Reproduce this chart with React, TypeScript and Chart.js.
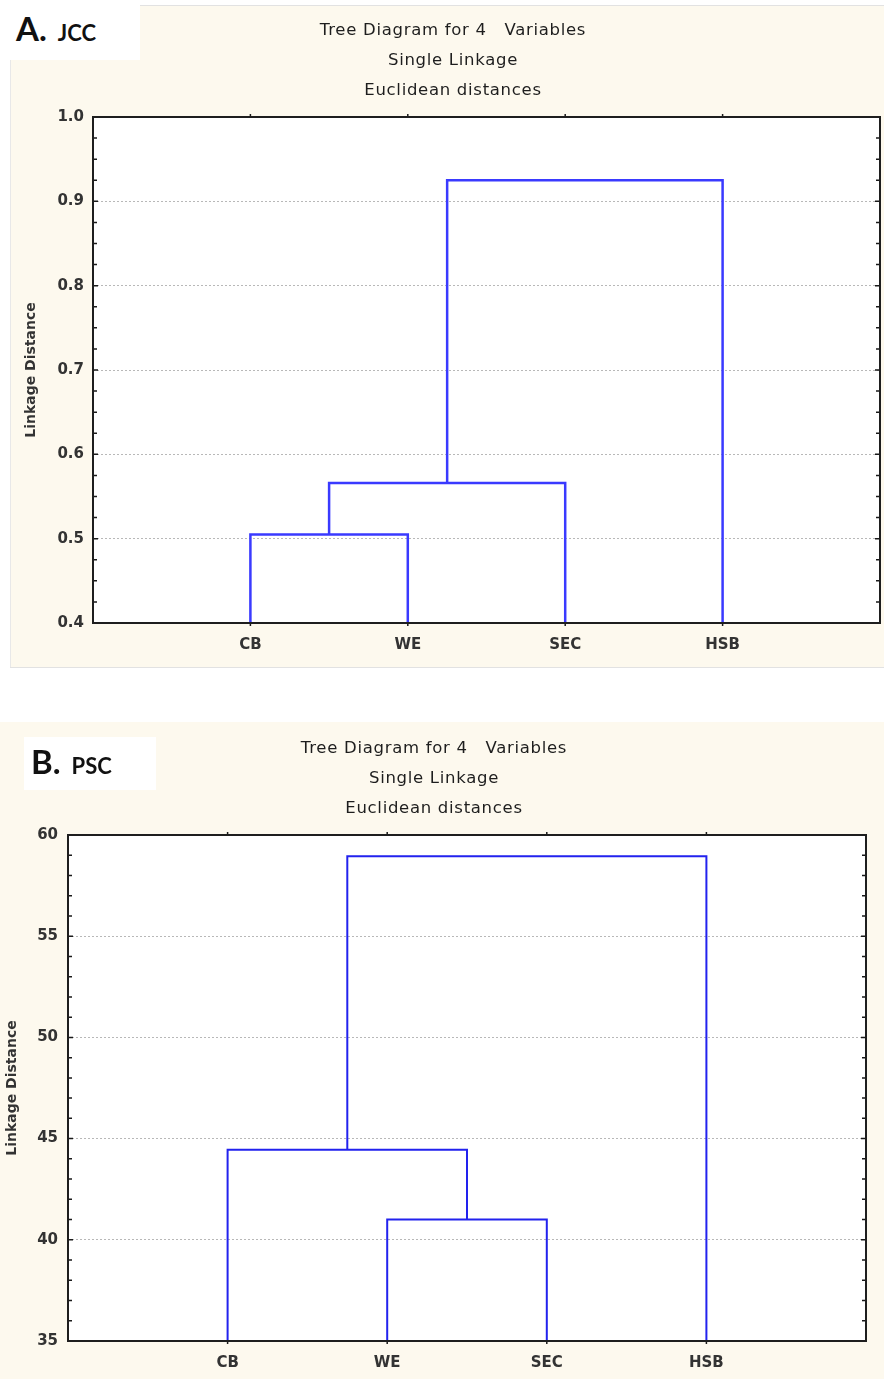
import React, { useEffect, useRef } from 'react';
import { Chart, registerables } from 'chart.js';

Chart.register(...registerables);

// ---------- DATA ----------
// Panel A (JCC)
const categoriesA = ['CB', 'WE', 'SEC', 'HSB'];
const mergeLeftA = [0, 4, 5];
const mergeRightA = [1, 2, 3];
const mergeHeightA = [0.505, 0.566, 0.925];
const yMinA = 0.4;
const yMaxA = 1.0;
const yMajorA = 0.1;
const yMinorA = 0.025;

// Panel B (PSC)
const categoriesB = ['CB', 'WE', 'SEC', 'HSB'];
const mergeLeftB = [1, 0, 5];
const mergeRightB = [2, 4, 3];
const mergeHeightB = [41.0, 44.45, 58.95];
const yMinB = 35;
const yMaxB = 60;
const yMajorB = 5;
const yMinorB = 1;

const titleLines = ['Tree Diagram for 4   Variables', 'Single Linkage', 'Euclidean distances'];
const yAxisTitle = 'Linkage Distance';

// ---------- HELPERS ----------
type Pt = { x: number; y: number };

function buildLinks(n: number, left: number[], right: number[], heights: number[], base: number): Pt[][] {
  const pos: number[] = [];
  const h: number[] = [];
  for (let i = 0; i < n; i++) {
    pos.push(i + 1);
    h.push(base);
  }
  const links: Pt[][] = [];
  for (let k = 0; k < heights.length; k++) {
    const l = left[k];
    const r = right[k];
    const hk = heights[k];
    links.push([
      { x: pos[l], y: h[l] },
      { x: pos[l], y: hk },
      { x: pos[r], y: hk },
      { x: pos[r], y: h[r] },
    ]);
    pos.push((pos[l] + pos[r]) / 2);
    h.push(hk);
  }
  return links;
}

type Spec = {
  categories: string[];
  left: number[];
  right: number[];
  heights: number[];
  yMin: number;
  yMax: number;
  yMajor: number;
  yMinor: number;
  decimals: number;
  lineColor: string;
  lineWidth: number;
  width: number;
  height: number;
  padTop: number;
  padRight: number;
  yAxisWidth: number;
  xAxisHeight: number;
  yLabelPad: number;
  yTitlePad: number;
};

const FONT = "'DejaVu Sans', 'Liberation Sans', Arial, sans-serif";

function DendroChart({ spec }: { spec: Spec }) {
  const ref = useRef<HTMLCanvasElement | null>(null);

  useEffect(() => {
    if (!ref.current) return;
    const s = spec;
    const eps = s.yMajor * 1e-6;
    const isMajor = (v: number) => Math.abs(v / s.yMajor - Math.round(v / s.yMajor)) < 1e-6;
    const links = buildLinks(s.categories.length, s.left, s.right, s.heights, s.yMin);

    const plugin = {
      id: 'dendroFrame',
      beforeDraw(chart: any) {
        const { ctx, chartArea: a } = chart;
        ctx.save();
        ctx.fillStyle = '#ffffff';
        ctx.fillRect(a.left, a.top, a.right - a.left, a.bottom - a.top);
        ctx.restore();
      },
      afterDraw(chart: any) {
        const { ctx, chartArea: a, scales } = chart;
        const ys = scales.y;
        const xs = scales.x;
        ctx.save();
        ctx.strokeStyle = '#1a1a1a';
        ctx.lineWidth = 1.5;
        ctx.beginPath();
        ys.ticks.forEach((t: any) => {
          const py = ys.getPixelForValue(t.value);
          const len = isMajor(t.value) ? 5 : 4;
          ctx.moveTo(a.left, py);
          ctx.lineTo(a.left + len, py);
          ctx.moveTo(a.right, py);
          ctx.lineTo(a.right - len, py);
        });
        xs.ticks.forEach((t: any) => {
          const px = xs.getPixelForValue(t.value);
          ctx.moveTo(px, a.top);
          ctx.lineTo(px, a.top - 3);
          ctx.moveTo(px, a.bottom);
          ctx.lineTo(px, a.bottom + 3);
        });
        ctx.stroke();
        ctx.lineWidth = 2;
        ctx.strokeStyle = '#1e1e1e';
        ctx.strokeRect(a.left, a.top, a.right - a.left, a.bottom - a.top);
        ctx.restore();
      },
    };

    const chart = new Chart(ref.current, {
      type: 'line',
      data: {
        datasets: links.map((pts) => ({
          data: pts,
          borderColor: s.lineColor,
          borderWidth: s.lineWidth,
          pointRadius: 0,
          fill: false,
          tension: 0,
          clip: false as any,
          borderJoinStyle: 'miter' as const,
        })),
      },
      options: {
        animation: false,
        responsive: false,
        maintainAspectRatio: false,
        layout: { padding: { top: s.padTop, right: s.padRight, left: 0, bottom: 0 } },
        plugins: {
          legend: { display: false },
          tooltip: { enabled: false },
          title: { display: false },
        },
        scales: {
          x: {
            type: 'linear',
            min: 0,
            max: s.categories.length + 1,
            afterBuildTicks: (scale: any) => {
              scale.ticks = s.categories.map((_, i) => ({ value: i + 1 }));
            },
            afterFit: (scale: any) => {
              scale.height = s.xAxisHeight;
            },
            grid: { display: false, drawTicks: false },
            border: { display: false },
            ticks: {
              autoSkip: false,
              maxRotation: 0,
              padding: 13,
              color: '#333333',
              font: { family: FONT, size: 15, weight: 'bold' },
              callback: (v: any) => s.categories[Math.round(Number(v)) - 1] ?? '',
            },
          },
          y: {
            type: 'linear',
            min: s.yMin,
            max: s.yMax,
            afterFit: (scale: any) => {
              scale.width = s.yAxisWidth;
            },
            ticks: {
              stepSize: s.yMinor,
              autoSkip: false,
              padding: s.yLabelPad,
              color: '#333333',
              font: { family: FONT, size: 15, weight: 'bold' },
              callback: (v: any) => (isMajor(Number(v)) ? Number(v).toFixed(s.decimals) : ''),
            },
            grid: {
              drawTicks: false,
              lineWidth: 1,
              color: (c: any) => {
                const v = c.tick ? c.tick.value : null;
                if (v == null) return 'rgba(0,0,0,0)';
                return isMajor(v) && v > s.yMin + eps && v < s.yMax - eps ? '#b8b8b8' : 'rgba(0,0,0,0)';
              },
            },
            border: { display: false, dash: [2, 2] },
            title: {
              display: true,
              text: yAxisTitle,
              color: '#333333',
              font: { family: FONT, size: 14, weight: 'bold' },
              padding: { top: s.yTitlePad, bottom: 0 },
            },
          },
        },
      } as any,
      plugins: [plugin],
    });
    return () => chart.destroy();
  }, [spec]);

  return (
    <canvas
      ref={ref}
      width={spec.width}
      height={spec.height}
      style={{ width: spec.width, height: spec.height, display: 'block' }}
    />
  );
}

const specA: Spec = {
  categories: categoriesA,
  left: mergeLeftA,
  right: mergeRightA,
  heights: mergeHeightA,
  yMin: yMinA,
  yMax: yMaxA,
  yMajor: yMajorA,
  yMinor: yMinorA,
  decimals: 1,
  lineColor: '#3a3aff',
  lineWidth: 2.5,
  width: 874,
  height: 663,
  padTop: 112,
  padRight: 4,
  yAxisWidth: 83,
  xAxisHeight: 45,
  yLabelPad: 9,
  yTitlePad: 13,
};

const specB: Spec = {
  categories: categoriesB,
  left: mergeLeftB,
  right: mergeRightB,
  heights: mergeHeightB,
  yMin: yMinB,
  yMax: yMaxB,
  yMajor: yMajorB,
  yMinor: yMinorB,
  decimals: 0,
  lineColor: '#2222ee',
  lineWidth: 2,
  width: 884,
  height: 657,
  padTop: 113,
  padRight: 18,
  yAxisWidth: 68,
  xAxisHeight: 38,
  yLabelPad: 10,
  yTitlePad: 4,
};

const CREAM = '#fdf9ee';

function Titles({ left, top }: { left: number; top: number }) {
  return (
    <div
      style={{
        position: 'absolute',
        left: left - 300,
        top,
        width: 600,
        textAlign: 'center',
        fontFamily: FONT,
        fontSize: 16.5,
        lineHeight: '30px',
        letterSpacing: '0.7px',
        color: '#1e1e1e',
        whiteSpace: 'pre',
      }}
    >
      {titleLines.map((t, i) => (
        <div key={i}>{t}</div>
      ))}
    </div>
  );
}

function PanelLabel({ left, top, width, height, letter, name, textLeft, textTop }: any) {
  return (
    <>
      <div style={{ position: 'absolute', left, top, width, height, background: '#ffffff' }} />
      <div
        style={{
          position: 'absolute',
          left: textLeft,
          top: textTop,
          lineHeight: '30px',
          fontFamily: "Lato, 'Open Sans', sans-serif",
          fontWeight: 'bold',
          color: '#111111',
          whiteSpace: 'nowrap',
        }}
      >
        <span style={{ fontSize: 33 }}>{letter}</span>
        <span style={{ fontSize: 22, marginLeft: 11 }}>{name}</span>
      </div>
    </>
  );
}

export default function App() {
  useEffect(() => {
    document.body.style.margin = '0';
  }, []);
  return (
    <div style={{ position: 'relative', width: 884, height: 1379, background: '#ffffff', overflow: 'hidden' }}>
      {/* Panel A */}
      <div
        style={{
          position: 'absolute',
          left: 10,
          top: 5,
          width: 874,
          height: 663,
          background: CREAM,
          boxShadow: 'inset 0 1px 0 #e2e2e2, inset 0 -1px 0 #e2e2e2, inset 1px 0 0 #e8e8e8',
        }}
      >
        <DendroChart spec={specA} />
      </div>
      <PanelLabel left={7} top={5} width={133} height={55} letter="A." name="JCC" textLeft={16} textTop={13} />
      <Titles left={453} top={15} />

      {/* Panel B */}
      <div
        style={{
          position: 'absolute',
          left: 0,
          top: 722,
          width: 884,
          height: 657,
          background: CREAM,
        }}
      >
        <DendroChart spec={specB} />
      </div>
      <PanelLabel left={24} top={737} width={132} height={53} letter="B." name="PSC" textLeft={31} textTop={746} />
      <Titles left={434} top={733} />
    </div>
  );
}
